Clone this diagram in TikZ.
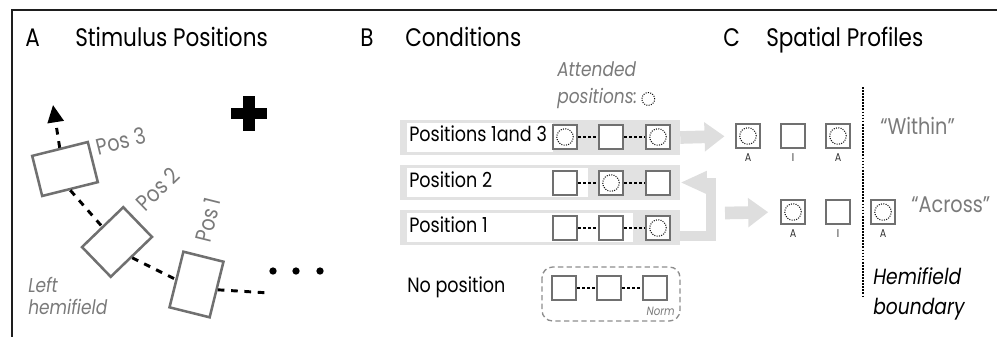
\documentclass[tikz,border=0pt]{standalone}
\usepackage{fontspec}
\setmainfont{Poppins}[FakeStretch=0.85]
\usetikzlibrary{arrows.meta,calc}
\definecolor{framecol}{HTML}{1E1E1E}
\definecolor{sqgray}{HTML}{707070}
\definecolor{txtgray}{HTML}{7A7A7A}
\definecolor{bandgray}{HTML}{E2E2E2}
\definecolor{arrgray}{HTML}{DEDEDE}
\tikzset{
  title/.style={anchor=west, inner sep=0pt, font=\fontsize{19}{21}\selectfont, text height=0.7em, text depth=0pt},
  rowlbl/.style={anchor=west, inner sep=0pt, font=\fontsize{15.5}{17}\selectfont, text height=0.7em, text depth=0pt},
  graylbl/.style={anchor=west, inner sep=0pt, text=txtgray, font=\fontsize{15}{17}\selectfont\itshape, text height=0.7em, text depth=0pt},
  quotelbl/.style={anchor=west, inner sep=0pt, text=txtgray, font=\fontsize{17}{19}\selectfont, text height=0.7em, text depth=0pt},
  hflbl/.style={anchor=west, inner sep=0pt, text=black, font=\fontsize{16.5}{18}\selectfont\itshape, text height=0.7em, text depth=0pt},
  poslbl/.style={inner sep=0pt, text=txtgray, font=\fontsize{17}{19}\selectfont},
  posbox/.style={draw=sqgray, line width=1.9pt, fill=white, minimum width=43pt, minimum height=31pt, inner sep=0pt},
  sq/.style={draw=sqgray, line width=2.2pt, fill=white, minimum size=18pt, inner sep=0pt},
  attsq/.style={sq, path picture={\draw[black, line width=0.75pt, dash pattern=on 0.75pt off 1pt] (path picture bounding box.center) circle[radius=6.2pt];}},
  sqconn/.style={black, line width=1.1pt, dash pattern=on 2.2pt off 1.5pt},
  aconn/.style={black, line width=2.2pt, dash pattern=on 5pt off 5pt},
  band/.style={fill=bandgray, minimum width=210pt, minimum height=26.25pt, inner sep=0pt},
  bigarrow/.style={draw=arrgray, line width=9.5pt, -{Triangle[length=15pt,width=21pt]}},
  bentarrow/.style={draw=arrgray, line width=7.5pt, line join=miter, -{Triangle[length=20pt,width=16pt]}},
  ailbl/.style={font=\fontsize{8.5}{9}\selectfont, text=black!80, inner sep=0pt},
  dotnode/.style={circle, fill=black, minimum size=5.5pt, inner sep=0pt},
}
\begin{document}
\begin{tikzpicture}[x=0.75pt,y=-0.75pt]
\useasboundingbox (0,0) rectangle (998,336);
% frame
\draw[framecol, line width=1.9pt] (12,337) -- (12,10) -- (997,10);

% ---------- Panel A ----------
\node[title] (tA) at (25,42) {A};
\node[title] (tAt) at (75,42) {Stimulus Positions};
\fill[black] (231,108) rectangle (267,119);
\fill[black] (243,96) rectangle (255,131);

\node[posbox, rotate=14] (pos3) at (65,169) {};
\node[posbox, rotate=44] (pos2) at (117,242) {};
\node[posbox, minimum width=31pt, minimum height=43pt, rotate=-14] (pos1) at (196.5,284.5) {};
\node[poslbl, rotate=14] (l3) at (121,141) {Pos 3};
\node[poslbl, rotate=44] (l2) at (158,189) {Pos 2};
\node[poslbl, rotate=76] (l1) at (208,220) {Pos 1};

\coordinate (tipA) at (53,105);
\coordinate (endA) at (270,293);
\draw[aconn] (pos3.south) -- (pos2.north);
\draw[aconn] (pos2.south) -- (pos1.west);
\draw[aconn] (pos1.east) -- (endA);
\draw[aconn, -{Triangle[length=13pt,width=12pt]}] (pos3.north) -- (tipA);
\node[dotnode] (d1) at (273,271) {};
\node[dotnode] (d2) at (296,271) {};
\node[dotnode] (d3) at (320,271) {};

\node[graylbl] (lh1) at (28,288) {Left};
\node[graylbl] (lh2) at (28,310) {hemifield};

% ---------- Panel B ----------
\node[title] (tB) at (360,42) {B};
\node[title] (tBt) at (405,42) {Conditions};
\node[graylbl] (att1) at (557,72) {Attended};
\node[graylbl] (att2) at (557,99) {positions:};
\draw[black, line width=0.75pt, dash pattern=on 0.75pt off 1pt] (att2.east) ++(8pt,0) circle[radius=4.8pt];

\node[band] (band1) at (540,137.5) {};
\node[band] (band2) at (540,182.5) {};
\node[band] (band3) at (540,227.5) {};
\fill[white] (407,123) rectangle (553,152);
\fill[white] (407,168) rectangle (588,197);
\fill[white] (407,213) rectangle (633,242);

\node[rowlbl] (p13) at (409,137) {Positions 1and 3};
\node[rowlbl] (p2) at (409,183) {Position 2};
\node[rowlbl] (p1) at (409,228) {Position 1};
\node[rowlbl] (p0) at (407,288) {No position};

\node[attsq] (r1a) at (565,137) {};
\node[sq]    (r1b) at (611,137) {};
\node[attsq] (r1c) at (658,137) {};
\node[sq]    (r2a) at (565,183) {};
\node[attsq] (r2b) at (611,183) {};
\node[sq]    (r2c) at (658,183) {};
\node[sq]    (r3a) at (565,228) {};
\node[sq]    (r3b) at (611,228) {};
\node[attsq] (r3c) at (658,228) {};
\node[sq]    (r4a) at (564,288) {};
\node[sq]    (r4b) at (609,288) {};
\node[sq]    (r4c) at (655,288) {};
\foreach \r in {1,2,3,4}{
  \draw[sqconn] (r\r a) -- (r\r b);
  \draw[sqconn] (r\r b) -- (r\r c);
}
\draw[sqgray!80, line width=1pt, dash pattern=on 4pt off 2.5pt, rounded corners=8pt] (542,267) rectangle (680,321);
\node[inner sep=0pt, text=txtgray, font=\fontsize{9}{10}\selectfont\itshape, anchor=east] (norm) at (675,311) {Norm};

% ---------- Panel C ----------
\node[title] (tC) at (723,42) {C};
\node[title] (tCt) at (766,42) {Spatial Profiles};

\node[attsq, label={[ailbl, label distance=3pt]below:A}] (w1) at (748,136) {};
\node[sq,    label={[ailbl, label distance=3pt]below:I}] (w2) at (793,136) {};
\node[attsq, label={[ailbl, label distance=3pt]below:A}] (w3) at (838,136) {};
\node[attsq, label={[ailbl, label distance=3pt]below:A}] (x1) at (793,212) {};
\node[sq,    label={[ailbl, label distance=3pt]below:I}] (x2) at (838,212) {};
\node[attsq, label={[ailbl, label distance=3pt]below:A}] (x3) at (883,212) {};

\node[quotelbl] (within) at (880,130) {“Within”};
\node[quotelbl] (across) at (911,208) {“Across”};

\coordinate (hb1) at (863,87);
\coordinate (hb2) at (863,298);
\draw[black, line width=1.3pt, dash pattern=on 1.3pt off 1pt] (hb1) -- (hb2);
\node[hflbl] (hf1) at (873,280) {Hemifield};
\node[hflbl] (hf2) at (873,310) {boundary};

% arrows
\draw[bigarrow, shorten >=7.5pt] (band1.east) -- (w1.west);
\draw[bentarrow] ([yshift=-6pt]band3.east) -| ($(band2.east)+(31,0)$) -- (band2.east);
\coordinate (a3s) at (725,213);
\draw[bigarrow, shorten >=8.5pt] (a3s) -- (x1.west);
\end{tikzpicture}
\end{document}
